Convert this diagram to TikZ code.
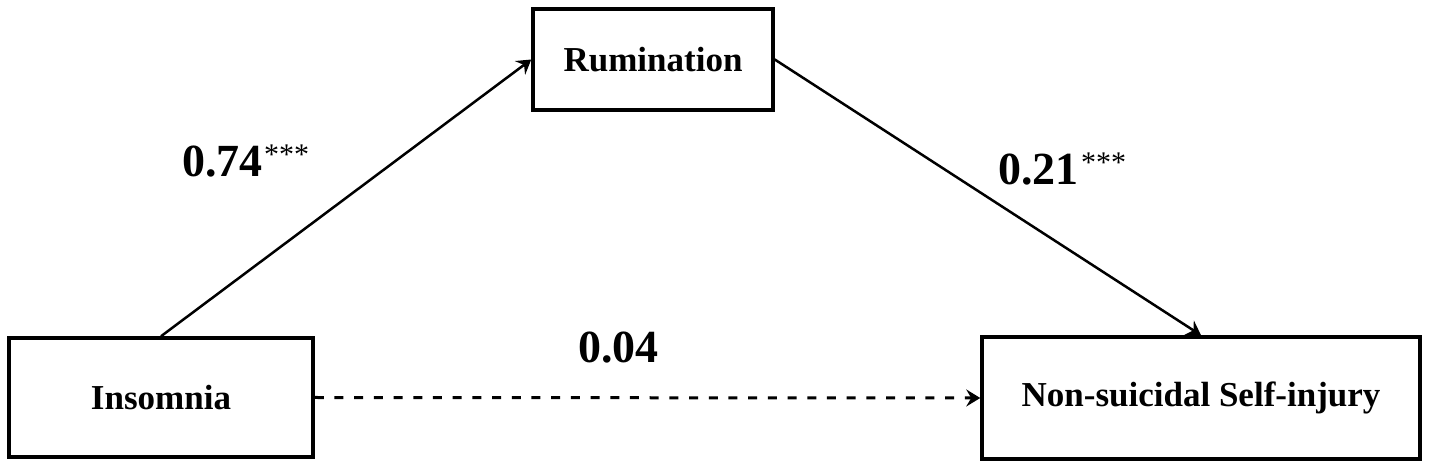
\documentclass[tikz,border=0pt]{standalone}
\usepackage{fontspec}
\setmainfont{Liberation Serif}
\usetikzlibrary{arrows.meta}
\begin{document}
\begin{tikzpicture}[x=1pt,y=1pt,
  varbox/.style={draw=black,line width=3.5pt,inner sep=0pt,font=\fontsize{35}{40}\selectfont\bfseries},
  coef/.style={font=\fontsize{46}{50}\selectfont\bfseries,inner sep=0pt,anchor=base west},
  path/.style={line width=2.5pt,-{Stealth[length=14pt,width=17pt,inset=5pt]}},
  stars/.style={font=\fontsize{30}{32}\selectfont,inner sep=0pt,anchor=base west}]
\useasboundingbox (0,0) rectangle (1429,468);
\fill[white] (0,0) rectangle (1429,468);
\node[varbox,minimum width=240pt,minimum height=101pt] (rum) at (653,408.5) {Rumination};
\node[varbox,minimum width=304pt,minimum height=119pt] (ins) at (161,70.5) {Insomnia};
\node[varbox,minimum width=438pt,minimum height=122pt] (nssi) at (1201,70) {Non-suicidal Self-injury};
\draw[path] (ins.north) -- (rum.west);
\draw[path] (rum.east) -- (nssi.north);
\draw[path,line width=3pt,dash pattern=on 9pt off 10.7pt] (ins.east) -- (nssi.west);
\node[coef] (c1) at (182,291) {0.74};
\node[stars] (s1) at (c1.base east) [xshift=1pt,yshift=12pt] {***};
\node[coef] (c2) at (998,283) {0.21};
\node[stars] (s2) at (c2.base east) [xshift=2pt,yshift=12pt] {***};
\node[coef] (c3) at (578,105) {0.04};
\end{tikzpicture}
\end{document}
